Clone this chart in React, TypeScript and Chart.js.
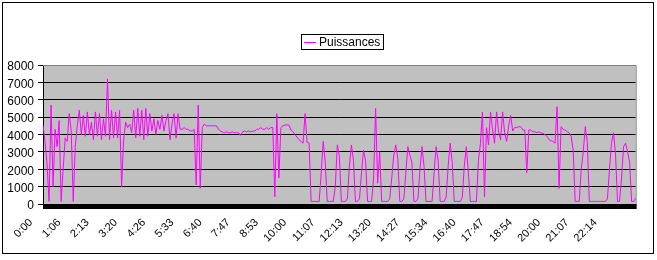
import { useEffect, useRef } from 'react';
import { Chart, registerables } from 'chart.js';

Chart.register(...registerables);

const SERIES_LABEL = 'Puissances';

const TIME_LABELS = [
  '0:00', '1:06', '2:13', '3:20', '4:26', '5:33', '6:40', '7:47', '8:53', '10:00', '11:07',
  '12:13', '13:20', '14:27', '15:34', '16:40', '17:47', '18:54', '20:00', '21:07', '22:14',
];

const POINTS_PER_LABEL = 14;

const POWER = [
  4540, 3600, 2300, 150, 5700, 1000, 4300, 3300, 4800, 150,
  2000, 3800, 3600, 5200, 4200, 150, 3300, 4500, 5400, 4000,
  5100, 3900, 5300, 4000, 4700, 3700, 5300, 3900, 5200, 3700,
  4900, 3900, 7200, 3700, 5400, 3800, 5300, 3800, 5400, 1000,
  3700, 4700, 4400, 4600, 4100, 5400, 3800, 5500, 3900, 5400,
  3700, 5500, 3900, 5200, 4200, 4900, 4000, 4800, 4300, 5100,
  4200, 4800, 5200, 3700, 4600, 5200, 3800, 5200, 4300, 4300,
  4400, 4300, 4300, 4200, 4200, 4300, 1100, 5700, 900, 4400,
  4600, 4500, 4500, 4500, 4500, 4500, 4500, 4300, 4200, 4150,
  4100, 4150, 4100, 4100, 4150, 4100, 4100, 4100, 3950, 4150,
  4200, 4150, 4200, 4150, 4200, 4200, 4300, 4300, 4400, 4300,
  4300, 4400, 4300, 4400, 4400, 420, 5200, 1500, 4400, 4500,
  4550, 4550, 4550, 4260, 4160, 4000, 3850, 3700, 3600, 3500,
  5200, 3550, 3500, 150, 150, 150, 150, 150, 1800, 3600,
  2400, 150, 150, 150, 150, 1000, 3400, 2800, 150, 150,
  150, 300, 2200, 3400, 2500, 150, 150, 300, 1800, 3100,
  2500, 150, 150, 150, 1500, 5500, 1200, 3000, 150, 150,
  150, 150, 300, 1500, 2800, 3400, 2600, 150, 150, 300,
  1800, 3300, 2800, 2400, 150, 150, 300, 2000, 3300, 2200,
  150, 150, 150, 150, 1800, 3300, 2500, 150, 150, 150,
  400, 2200, 3500, 2400, 150, 150, 150, 150, 400, 2200,
  3300, 1800, 150, 150, 150, 150, 2500, 3500, 5300, 400,
  4400, 3400, 5300, 4300, 3500, 5300, 4150, 3700, 5300, 4100,
  3600, 4500, 5100, 4200, 4400, 4400, 4450, 4450, 4260, 4260,
  1800, 4260, 4260, 4160, 4160, 4100, 4160, 4100, 4070, 4000,
  3900, 3700, 3650, 3600, 3500, 5600, 900, 4450, 4300, 4250,
  4160, 4100, 3900, 3100, 150, 150, 150, 2000, 3000, 4450,
  3600, 150, 150, 150, 150, 150, 150, 150, 150, 150,
  300, 2000, 3500, 4100, 2900, 150, 150, 1500, 3300, 3500,
  3000, 2400, 150, 150, 350,
];

const Y_MIN = 0;
const Y_MAX = 8000;
const Y_STEP = 1000;

const CATEGORIES = POWER.map((_, i) =>
  i % POINTS_PER_LABEL === 0 ? TIME_LABELS[i / POINTS_PER_LABEL] ?? '' : ''
);

const FONT = '"Liberation Sans", Arial, sans-serif';

const excelFrame = {
  id: 'excelFrame',
  beforeDraw(chart: any) {
    const { ctx, chartArea: a } = chart;
    ctx.save();
    ctx.fillStyle = '#ffffff';
    ctx.fillRect(0, 0, chart.width, chart.height);
    ctx.fillStyle = '#C0C0C0';
    ctx.fillRect(a.left, a.top, a.right - a.left, a.bottom - a.top);
    ctx.restore();
  },
  afterDraw(chart: any) {
    const { ctx, chartArea: a } = chart;
    ctx.save();
    ctx.strokeStyle = '#808080';
    ctx.lineWidth = 1;
    ctx.beginPath();
    ctx.moveTo(a.left, a.top + 0.5);
    ctx.lineTo(a.right + 0.5, a.top + 0.5);
    ctx.lineTo(a.right + 0.5, a.bottom);
    ctx.stroke();

    ctx.fillStyle = '#000000';
    ctx.fillRect(a.left, a.bottom, a.right - a.left + 1, 5);

    // legend
    ctx.strokeStyle = '#000000';
    ctx.strokeRect(301.5, 34.5, 82, 15);
    ctx.strokeStyle = '#FF00FF';
    ctx.beginPath();
    ctx.moveTo(304, 42.5);
    ctx.lineTo(316, 42.5);
    ctx.stroke();
    ctx.fillStyle = '#000000';
    ctx.font = '12px ' + FONT;
    ctx.textBaseline = 'middle';
    ctx.textAlign = 'left';
    ctx.fillText(chart.data.datasets[0].label, 319, 42.5);

    // outer frame
    ctx.strokeStyle = '#000000';
    ctx.strokeRect(2.5, 2.5, 651, 251);
    ctx.restore();
  },
};

export default function App() {
  const ref = useRef<HTMLCanvasElement | null>(null);

  useEffect(() => {
    document.body.style.margin = '0';
    const canvas = ref.current;
    if (!canvas) return;
    const chart = new Chart(canvas, {
      type: 'line',
      data: {
        labels: CATEGORIES,
        datasets: [
          {
            label: SERIES_LABEL,
            data: POWER,
            borderColor: '#FF00FF',
            borderWidth: 1,
            pointRadius: 0,
            tension: 0,
            fill: false,
          },
        ],
      },
      options: {
        animation: false,
        responsive: false,
        devicePixelRatio: 1,
        layout: { padding: { top: 65, right: 15, left: 0, bottom: 0 } },
        plugins: {
          legend: { display: false },
          tooltip: { enabled: false },
          title: { display: false },
        },
        scales: {
          x: {
            type: 'category',
            offset: false,
            grid: { display: false, drawTicks: false },
            border: { display: false },
            ticks: {
              autoSkip: false,
              minRotation: 45,
              maxRotation: 45,
              padding: 12,
              labelOffset: -12,
              color: '#000000',
              font: { family: FONT, size: 11 },
            },
            afterFit: (scale: any) => {
              scale.height = 56;
            },
          },
          y: {
            min: Y_MIN,
            max: Y_MAX,
            ticks: {
              stepSize: Y_STEP,
              autoSkip: false,
              padding: 4,
              labelOffset: 2,
              color: '#000000',
              font: { family: FONT, size: 12 },
              callback: (v: any) => String(v),
            },
            grid: {
              color: (c: any) => (c.tick && c.tick.value === Y_MAX ? '#808080' : '#000000'),
              tickColor: '#000000',
              tickLength: 5,
              lineWidth: 1,
            },
            border: { color: '#000000', width: 1 },
            afterFit: (scale: any) => {
              scale.width = 43;
            },
          },
        },
      },
      plugins: [excelFrame],
    });
    return () => chart.destroy();
  }, []);

  return <canvas ref={ref} width={657} height={260} style={{ display: 'block' }} />;
}
